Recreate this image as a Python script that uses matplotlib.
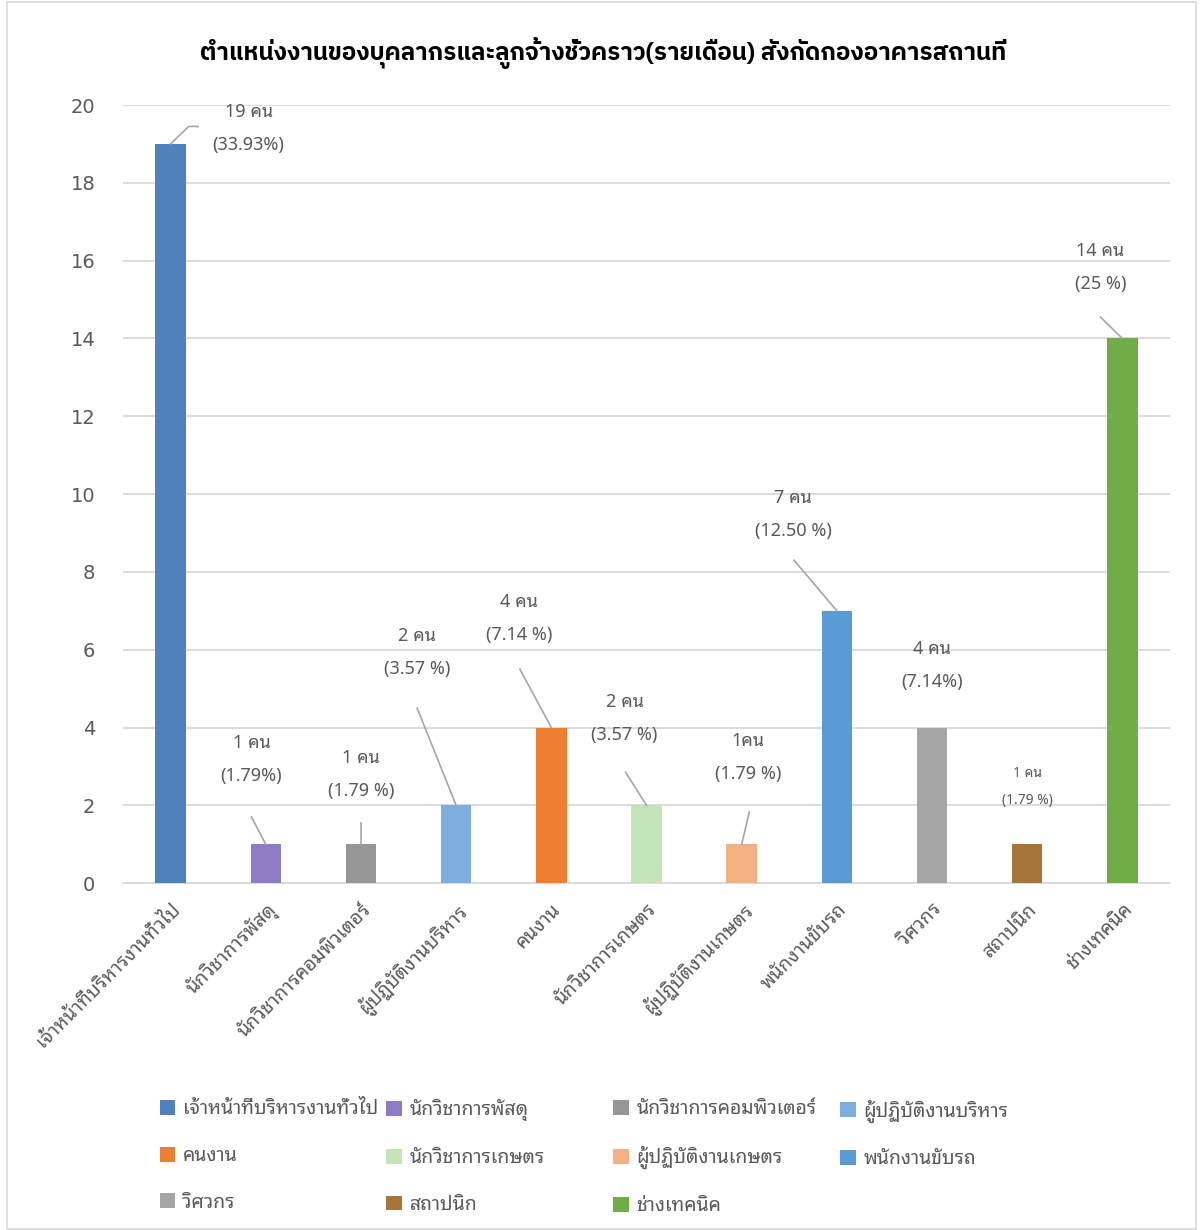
import matplotlib
matplotlib.use("Agg")
import matplotlib.pyplot as plt
from matplotlib.patches import Rectangle

# data
positions = ["เจ้าหน้าที่บริหารงานทั่วไป", "นักวิชาการพัสดุ", "นักวิชาการคอมพิวเตอร์",
             "ผู้ปฏิบัติงานบริหาร", "คนงาน", "นักวิชาการเกษตร", "ผู้ปฏิบัติงานเกษตร",
             "พนักงานขับรถ", "วิศวกร", "สถาปนิก", "ช่างเทคนิค"]
counts = [19, 1, 1, 2, 4, 2, 1, 7, 4, 1, 14]
count_text = ["19 คน", "1 คน", "1 คน", "2 คน", "4 คน", "2 คน", "1คน", "7 คน", "4 คน", "1 คน", "14 คน"]
pct_text = ["(33.93%)", "(1.79%)", "(1.79 %)", "(3.57 %)", "(7.14 %)", "(3.57 %)",
            "(1.79 %)", "(12.50 %)", "(7.14%)", "(1.79 %)", "(25 %)"]
colors = ["#4F81BD", "#8D7BC4", "#969696", "#7DAEDD", "#ED7D31", "#C3E3B8",
          "#F4B183", "#5B9BD5", "#A5A5A5", "#A5763A", "#70AD47"]
title = "ตำแหน่งงานของบุคลากรและลูกจ้างชั่วคราว(รายเดือน) สังกัดกองอาคารสถานที่"

# label placement (x offset in categories, y of lower line in data units)
lab_dx = [0.82, -0.15, 0.0, -0.41, -0.34, -0.23, 0.07, -0.46, 0.0, 0.0, -0.23]
lab_y = [18.97, 2.75, 2.37, 5.5, 6.38, 3.8, 2.8, 9.05, 5.16, 2.12, 15.4]
lab_small = [False] * 9 + [True, False]
# leader lines: (x, y) of the end near the label, None = no line
lead_end = [(0.19, 19.45), (-0.15, 1.7), (0.0, 1.55), (-0.41, 4.5), (-0.33, 5.5),
            (-0.22, 2.85), (0.08, 1.83), (-0.45, 8.3), None, None, (-0.23, 14.55)]

thai = ["Noto Sans Thai Looped", "Sarabun", "IBM Plex Sans Thai Looped", "DejaVu Sans"]
thai_bold = ["IBM Plex Sans Thai", "Noto Sans Thai", "DejaVu Sans"]
txtc = "#595959"

fig = plt.figure(figsize=(12, 12.3), dpi=100)
ax = fig.add_axes([0.1025, 0.282, 0.8725, 0.6326])

x = list(range(len(counts)))
bars = ax.bar(x, counts, width=0.32, color=colors, zorder=3)
for b, lab in zip(bars, positions):
    b.set_label(lab)

ax.set_xlim(-0.5, len(counts) - 0.5)
ax.set_ylim(0, 20)
ax.set_yticks(range(0, 21, 2))
ax.yaxis.grid(True, color="#D9D9D9", linewidth=1.3, zorder=0)
for s in ["left", "right", "top"]:
    ax.spines[s].set_visible(False)
ax.spines["bottom"].set_color("#D9D9D9")
ax.spines["bottom"].set_linewidth(1.3)
ax.tick_params(axis="y", length=0, labelsize=14, labelcolor=txtc, pad=20)
ax.tick_params(axis="x", length=0)
ax.set_xticks(x)
ax.set_xticklabels(positions, rotation=45, ha="right", rotation_mode="anchor",
                   family=thai, fontsize=14, color=txtc)
for t in ax.get_xticklabels():
    t.set_y(-0.015)

# data labels with leader lines
for i in x:
    fs = 10 if lab_small[i] else 13
    gap = 0.7 if lab_small[i] else 0.85
    lx = i + lab_dx[i]
    ax.text(lx, lab_y[i], pct_text[i], ha="center", va="center", fontsize=fs,
            color=txtc, family=thai)
    ax.text(lx, lab_y[i] + gap, count_text[i], ha="center", va="center", fontsize=fs,
            color=txtc, family=thai)
    if lead_end[i] is not None:
        ex, ey = lead_end[i]
        xs = [i, i + ex]
        ys = [counts[i], ey]
        if i == 0:
            xs.append(i + ex + 0.1)
            ys.append(ey)
        ax.plot(xs, ys, color="#A6A6A6", linewidth=1.2, zorder=4)

fig.text(0.503, 0.957, title, ha="center", va="center", fontsize=17.4,
         fontweight="bold", family=thai_bold, color="black")

# legend, row by row like the original
col_x = [0.1265, 0.3155, 0.5045, 0.6935]
for c in range(4):
    idx = list(range(c, len(counts), 4))
    leg = fig.legend([bars[i] for i in idx], [positions[i] for i in idx],
                     loc="upper left", bbox_to_anchor=(col_x[c], 0.1125), ncol=1,
                     frameon=False, handlelength=0.8, handleheight=0.8,
                     handletextpad=0.4, labelspacing=1.37, borderaxespad=0,
                     prop={"family": thai, "size": 14})
    for t in leg.get_texts():
        t.set_color(txtc)

fig.patches.append(Rectangle((0.006, 0.001), 0.991, 0.997, transform=fig.transFigure,
                             fill=False, edgecolor="#D9D9D9", linewidth=1.2))

fig.savefig("out.png", dpi=100)
